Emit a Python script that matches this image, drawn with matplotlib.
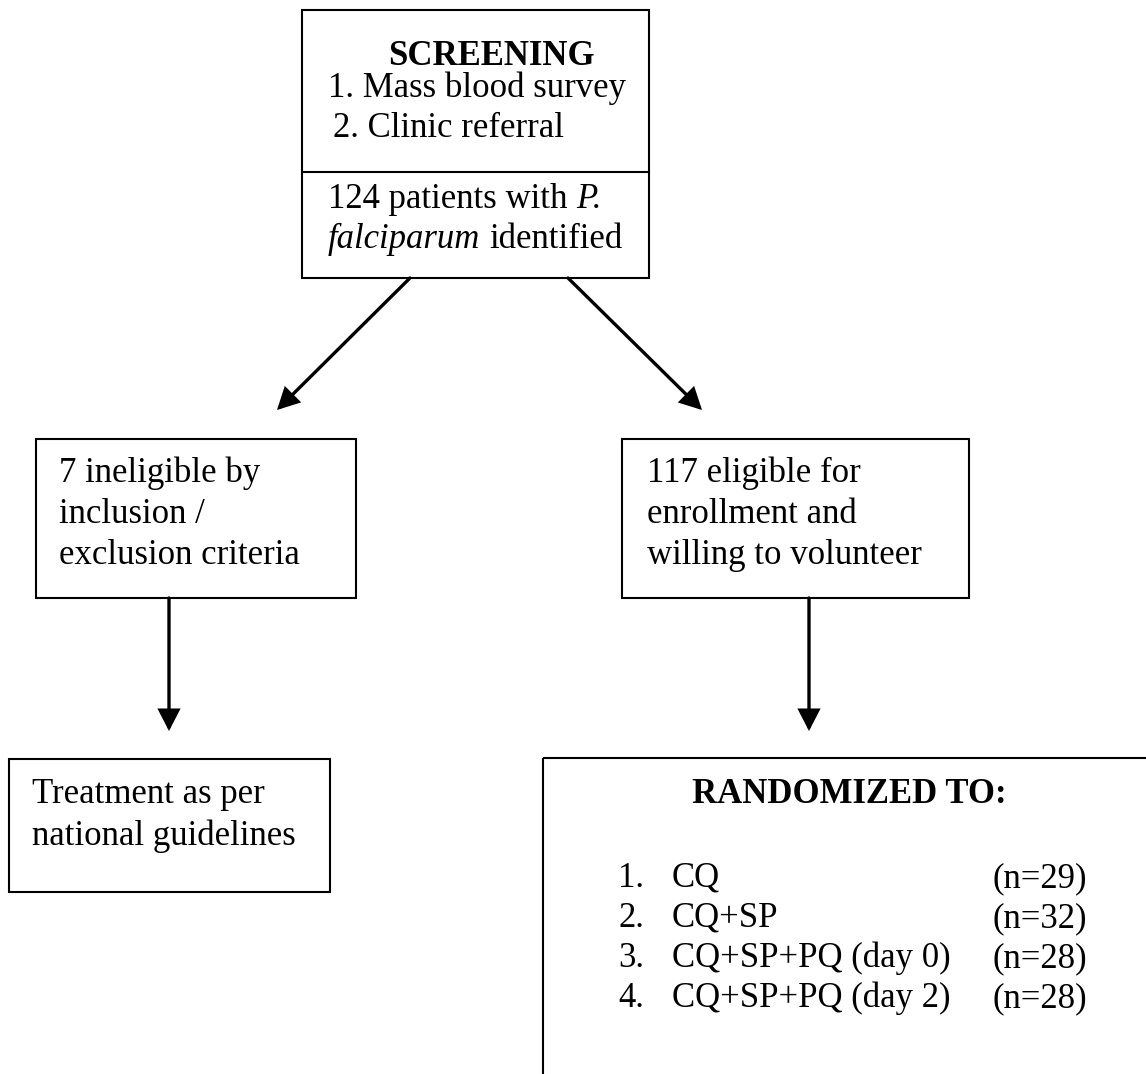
import matplotlib
matplotlib.use("Agg")
import matplotlib.pyplot as plt
from matplotlib.patches import Rectangle, FancyArrowPatch

plt.rcParams["font.family"] = ["Liberation Serif", "DejaVu Serif"]

# flow counts
N_SCREENED = 124
N_INELIGIBLE = 7
N_ELIGIBLE = 117

SCREEN_TITLE = "SCREENING"
SCREEN_SOURCES = ["Mass blood survey", "Clinic referral"]
INELIGIBLE_LINES = [f"{N_INELIGIBLE} ineligible by", "inclusion /", "exclusion criteria"]
ELIGIBLE_LINES = [f"{N_ELIGIBLE} eligible for", "enrollment and", "willing to volunteer"]
TREATMENT_LINES = ["Treatment as per", "national guidelines"]
RAND_TITLE = "RANDOMIZED TO:"
ARMS = ["CQ", "CQ+SP", "CQ+SP+PQ (day 0)", "CQ+SP+PQ (day 2)"]
ARM_N = [29, 32, 28, 28]

W, H = 1146, 1074
FS = 25
LW_BOX = 1.5
LW_ARROW = 2.4


def box(ax, x0, y0, x1, y1):
    ax.add_patch(Rectangle((x0, y0), x1 - x0, y1 - y0, fill=False,
                           ec="black", lw=LW_BOX))


def arrow(ax, p0, p1):
    ax.add_patch(FancyArrowPatch(p0, p1, arrowstyle="-|>,head_length=0.62,head_width=0.32",
                                 mutation_scale=20, lw=LW_ARROW, color="black",
                                 shrinkA=0, shrinkB=0, joinstyle="miter"))


def runs(ax, fig, x, y, parts):
    """draws text pieces one after the other, some in italics"""
    r = fig.canvas.get_renderer()
    space = 0.25 * FS * 100 / 72
    for txt, style in parts:
        t = ax.text(x, y, txt, fontsize=FS, fontstyle=style, va="baseline", ha="left")
        bb = t.get_window_extent(renderer=r)
        x = ax.transData.inverted().transform((bb.x1, bb.y0))[0] + space


def main() -> int:
    fig = plt.figure(figsize=(W / 100, H / 100), dpi=100)
    ax = fig.add_axes([0, 0, 1, 1])
    ax.set_xlim(0, W)
    ax.set_ylim(H, 0)
    ax.axis("off")

    # top box
    box(ax, 302, 10, 649, 278)
    ax.plot([302, 649], [172, 172], color="black", lw=LW_BOX)
    ax.text(388, 65, SCREEN_TITLE, fontsize=FS, fontweight="bold", va="baseline")
    ax.text(328, 97, f"1. {SCREEN_SOURCES[0]}", fontsize=FS, va="baseline")
    ax.text(333, 137, f"2. {SCREEN_SOURCES[1]}", fontsize=FS, va="baseline")
    runs(ax, fig, 328, 208, [(f"{N_SCREENED} patients with", "normal"), ("P.", "italic")])
    runs(ax, fig, 328, 248, [("falciparum", "italic"), ("identified", "normal")])

    # split arrows
    arrow(ax, (410, 278), (277, 410))
    arrow(ax, (568, 278), (702, 410))

    # middle boxes
    box(ax, 36, 439, 356, 598)
    for i, line in enumerate(INELIGIBLE_LINES):
        ax.text(59, 482 + 41 * i, line, fontsize=FS, va="baseline")
    box(ax, 622, 439, 969, 598)
    for i, line in enumerate(ELIGIBLE_LINES):
        ax.text(647, 482 + 41 * i, line, fontsize=FS, va="baseline")

    arrow(ax, (169, 598), (169, 731))
    arrow(ax, (809, 598), (809, 731))

    # bottom left
    box(ax, 9, 759, 330, 892)
    for i, line in enumerate(TREATMENT_LINES):
        ax.text(32, 803 + 42 * i, line, fontsize=FS, va="baseline")

    # randomized box runs off the page
    box(ax, 543, 758, W + 40, H + 40)
    ax.text(849, 803, RAND_TITLE, fontsize=FS, fontweight="bold", va="baseline", ha="center")
    for i, (arm, n) in enumerate(zip(ARMS, ARM_N)):
        y = 887 + 40 * i
        ax.text(618, y, f"{i + 1}.", fontsize=FS, va="baseline")
        ax.text(672, y, arm, fontsize=FS, va="baseline")
        ax.text(993, y, f"(n={n})", fontsize=FS, va="baseline")

    fig.savefig("out.png", dpi=100, facecolor="white")
    plt.close(fig)
    return 0


if __name__ == "__main__":
    raise SystemExit(main())
